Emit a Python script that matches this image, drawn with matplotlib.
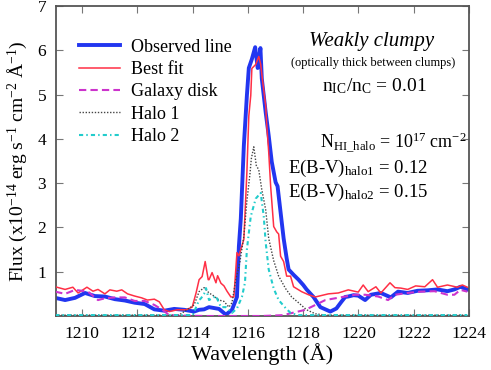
import matplotlib
matplotlib.use('Agg')
import matplotlib.pyplot as plt

plt.rcParams['font.family'] = ['Liberation Serif', 'DejaVu Serif']
plt.rcParams['mathtext.fontset'] = 'custom'
plt.rcParams['mathtext.rm'] = 'Liberation Serif'
plt.rcParams['mathtext.it'] = 'Liberation Serif:italic'

# Observed line
wl_obs = [1209.02, 1209.38, 1209.74, 1210.10, 1210.46, 1210.82, 1211.18, 1211.54, 1211.90,
          1212.26, 1212.61, 1212.97, 1213.33, 1213.69, 1214.05, 1214.23, 1214.41, 1214.59,
          1214.77, 1214.95, 1215.20, 1215.42, 1215.60, 1215.67, 1215.74, 1215.85, 1215.96,
          1216.03, 1216.14, 1216.26, 1216.35, 1216.45, 1216.50, 1216.64, 1216.75, 1216.86,
          1217.00, 1217.07, 1217.18, 1217.29, 1217.40, 1217.47, 1217.65, 1217.83, 1218.00,
          1218.12, 1218.37, 1218.62, 1218.98, 1219.20, 1219.38, 1219.52, 1219.63, 1219.82,
          1219.99, 1220.24, 1220.45, 1220.81, 1221.17, 1221.43, 1221.78, 1222.14, 1222.50,
          1222.86, 1223.22, 1223.47, 1223.69, 1223.94]
flux_obs = [0.41, 0.36, 0.41, 0.52, 0.45, 0.44, 0.38, 0.35, 0.30,
            0.27, 0.15, 0.12, 0.16, 0.14, 0.10, 0.14, 0.15, 0.20,
            0.18, 0.16, 0.03, 0.14, 0.43, 1.57, 2.20, 3.85, 4.98,
            5.60, 5.80, 6.07, 5.60, 6.05, 5.36, 4.60, 4.07, 3.48,
            3.02, 2.93, 2.34, 1.75, 1.30, 1.05, 0.93, 0.82, 0.70,
            0.60, 0.43, 0.20, 0.10, 0.17, 0.32, 0.43, 0.44, 0.47,
            0.46, 0.36, 0.48, 0.52, 0.42, 0.55, 0.52, 0.57, 0.58,
            0.60, 0.56, 0.60, 0.66, 0.60]

# Best fit
wl_fit = [1209.02, 1209.38, 1209.66, 1209.85, 1210.17, 1210.39, 1210.57, 1210.82, 1211.00,
          1211.25, 1211.43, 1211.64, 1211.90, 1212.15, 1212.36, 1212.61, 1212.79, 1212.97,
          1213.15, 1213.44, 1213.76, 1213.98, 1214.12, 1214.23, 1214.34, 1214.45, 1214.56,
          1214.59, 1214.70, 1214.84, 1214.90, 1215.02, 1215.13, 1215.24, 1215.38, 1215.49,
          1215.60, 1215.67, 1215.85, 1215.96, 1216.03, 1216.10, 1216.14, 1216.28, 1216.39,
          1216.46, 1216.53, 1216.64, 1216.68, 1216.75, 1216.82, 1216.93, 1217.04, 1217.11,
          1217.18, 1217.29, 1217.40, 1217.54, 1217.65, 1217.94, 1218.19, 1218.44, 1218.91,
          1219.27, 1219.63, 1219.99, 1220.17, 1220.35, 1220.63, 1220.81, 1221.14, 1221.32,
          1221.53, 1221.78, 1222.07, 1222.40, 1222.68, 1222.86, 1223.22, 1223.58, 1223.76,
          1223.94]
flux_fit = [0.66, 0.60, 0.65, 0.52, 0.65, 0.56, 0.60, 0.50, 0.59,
            0.56, 0.59, 0.50, 0.45, 0.41, 0.36, 0.38, 0.32, 0.14,
            0.10, 0.14, 0.14, 0.20, 0.52, 0.82, 0.89, 1.23, 0.82,
            0.82, 0.98, 0.75, 0.91, 0.74, 0.68, 0.56, 0.43, 0.43,
            1.43, 1.36, 1.73, 3.25, 4.52, 4.98, 5.59, 5.68, 5.86,
            5.68, 5.30, 4.75, 4.30, 3.70, 2.93, 2.02, 1.90, 1.85,
            1.35, 1.23, 0.90, 0.90, 0.66, 0.55, 0.48, 0.43, 0.50,
            0.52, 0.59, 0.54, 0.70, 0.55, 0.66, 0.52, 0.75, 0.64,
            0.63, 0.60, 0.68, 0.66, 0.82, 0.65, 0.70, 0.65, 0.70,
            0.65]

# Galaxy disk
wl_disk = [1209.02, 1209.38, 1209.74, 1210.21, 1210.57, 1210.82, 1211.18, 1211.54, 1211.90,
           1212.26, 1212.61, 1212.90, 1213.15, 1213.50, 1214.50, 1215.50, 1216.50, 1217.30,
           1217.47, 1218.08, 1218.44, 1218.80, 1219.16, 1219.52, 1219.88, 1220.24, 1220.71,
           1221.07, 1221.32, 1221.78, 1222.25, 1222.75, 1223.22, 1223.47, 1223.69, 1223.94]
flux_disk = [0.55, 0.50, 0.59, 0.55, 0.36, 0.40, 0.42, 0.42, 0.34,
             0.34, 0.25, 0.14, 0.02, 0.01, 0.0, 0.0, 0.0, 0.02,
             0.05, 0.14, 0.25, 0.36, 0.40, 0.44, 0.48, 0.48, 0.44,
             0.36, 0.48, 0.52, 0.55, 0.56, 0.48, 0.48, 0.59, 0.55]

# Halo 1
wl_h1 = [1209.02, 1213.50, 1214.05, 1214.23, 1214.41, 1214.59, 1214.77, 1214.95, 1215.13,
         1215.31, 1215.42, 1215.56, 1215.70, 1215.85, 1215.96, 1216.07, 1216.12, 1216.21,
         1216.30, 1216.39, 1216.50, 1216.64, 1216.75, 1216.93, 1217.11, 1217.36, 1217.58,
         1217.83, 1218.12, 1218.44, 1218.80, 1223.94]
flux_h1 = [0.02, 0.02, 0.25, 0.55, 0.64, 0.52, 0.45, 0.36, 0.33,
           0.20, 0.30, 0.82, 1.20, 1.80, 2.60, 3.20, 3.55, 3.82,
           3.40, 3.30, 2.85, 2.40, 1.75, 1.25, 0.90, 0.62, 0.43,
           0.30, 0.14, 0.05, 0.02, 0.02]

# Halo 2
wl_h2 = [1209.02, 1214.00, 1214.23, 1214.30, 1214.41, 1214.48, 1214.59, 1214.84, 1215.02,
         1215.20, 1215.42, 1215.60, 1215.78, 1215.89, 1215.96, 1216.10, 1216.28, 1216.46,
         1216.57, 1216.64, 1216.75, 1216.93, 1217.11, 1217.36, 1217.54, 1217.80, 1223.94]
flux_h2 = [0.02, 0.02, 0.36, 0.40, 0.50, 0.63, 0.36, 0.45, 0.20,
           0.20, 0.07, 0.17, 0.43, 0.75, 1.50, 2.25, 2.65, 2.78,
           2.25, 1.66, 1.05, 0.62, 0.36, 0.18, 0.07, 0.02, 0.02]

fig = plt.figure(figsize=(4.91, 3.70), dpi=100)
ax = fig.add_axes([56/491, 54/370, 413/491, 310/370])

ax.plot(wl_obs, flux_obs, color='#2236f0', lw=2.8, label='Observed line', zorder=2)
ax.plot(wl_fit, flux_fit, color='#ff2f45', lw=1.1, label='Best fit', zorder=3)
ax.plot(wl_disk, flux_disk, color='#cc33cc', lw=1.5, ls=(0, (3.5, 2)), label='Galaxy disk', zorder=3)
ax.plot(wl_h1, flux_h1, color='#444444', lw=1.0, ls=(0, (1, 1.2)), label='Halo 1', zorder=4)
ax.plot(wl_h2, flux_h2, color='#22cccc', lw=1.5, ls=(0, (2, 1.5, 0.7, 1.5)), label='Halo 2', zorder=4)

ax.set_xlim(1209.05, 1224.0)
ax.set_ylim(0, 7)
ax.set_xticks([1210, 1212, 1214, 1216, 1218, 1220, 1222, 1224])
ax.set_yticks([1, 2, 3, 4, 5, 6, 7])
ax.tick_params(direction='in', top=True, right=True, length=5, width=0.8,
               color='#777777', labelsize=12.5, pad=7)
for s in ax.spines.values():
    s.set_color('#555555')
    s.set_linewidth(1.3)

ax.set_xlabel('Wavelength (Å)', fontsize=16, labelpad=1)
ax.set_ylabel(r'Flux (x10$^{-14}$ erg s$^{-1}$ cm$^{-2}$ Å$^{-1}$)', fontsize=14, labelpad=6)

ax.legend(loc='upper left', bbox_to_anchor=(0.055, 0.895), frameon=False, fontsize=13,
          borderaxespad=0, borderpad=0, labelspacing=0.3, handlelength=2.3, handletextpad=0.6)

tr = ax.transAxes
ax.text(0.765, 0.884, 'Weakly clumpy', style='italic', fontsize=15, ha='center', va='center', transform=tr)
ax.text(0.768, 0.816, '(optically thick between clumps)', fontsize=9, ha='center', va='center', transform=tr)
ax.text(0.644, 0.742, r'n$_{\rm IC}$/n$_{\rm C}$ = 0.01', fontsize=14, ha='left', va='center', transform=tr)
ax.text(0.639, 0.558, r'N$_{\rm HI\_halo}$ = 10$^{17}$ cm$^{-2}$', fontsize=13, ha='left', va='center', transform=tr)
ax.text(0.562, 0.477, r'E(B-V)$_{\rm halo1}$ = 0.12', fontsize=13.5, ha='left', va='center', transform=tr)
ax.text(0.562, 0.397, r'E(B-V)$_{\rm halo2}$ = 0.15', fontsize=13.5, ha='left', va='center', transform=tr)

plt.savefig('out.png', dpi=100)
